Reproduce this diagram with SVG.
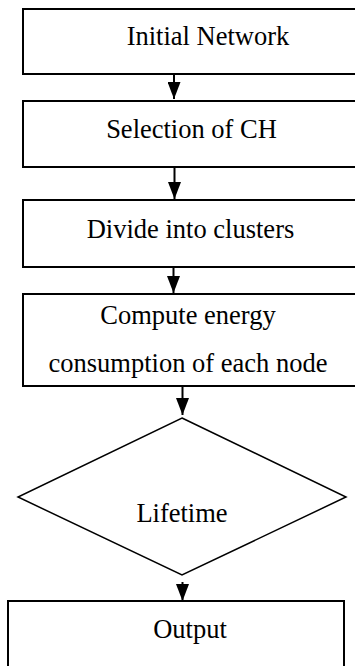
<svg xmlns="http://www.w3.org/2000/svg" width="355" height="666" viewBox="0 0 355 666">
  <style>
    .box { fill: #ffffff; stroke: #000000; stroke-width: 2; }
    .dia { fill: #ffffff; stroke: #000000; stroke-width: 1.5; }
    .lbl { font-family: "Liberation Serif", "Times New Roman", serif; font-size: 26.5px; fill: #000000; text-anchor: middle; }
    .edge { stroke: #000000; stroke-width: 2; fill: none; marker-end: url(#head); }
  </style>
  <defs>
    <!-- solid triangular arrowhead, tip at the end of the line -->
    <marker id="head" markerWidth="17" markerHeight="13" refX="17" refY="6.5" orient="auto" markerUnits="userSpaceOnUse" viewBox="0 0 17 13">
      <path d="M0,0 L17,6.5 L0,13 Z" fill="#000000"/>
    </marker>
  </defs>
  <rect width="355" height="666" fill="#ffffff"/>

  <g id="initial-network">
    <rect class="box" x="23" y="9" width="345" height="65"/>
    <text class="lbl" x="208" y="45">Initial Network</text>
  </g>
  <g id="selection-of-ch">
    <rect class="box" x="23" y="101" width="345" height="66"/>
    <text class="lbl" x="191.5" y="138">Selection of CH</text>
  </g>
  <g id="divide-into-clusters">
    <rect class="box" x="23" y="200" width="345" height="67"/>
    <text class="lbl" x="190.5" y="238">Divide into clusters</text>
  </g>
  <g id="compute-energy">
    <rect class="box" x="23" y="294" width="345" height="92"/>
    <text class="lbl" x="188" y="324">Compute energy</text>
    <text class="lbl" x="188" y="372">consumption of each node</text>
  </g>
  <g id="lifetime">
    <polygon class="dia" points="182,418 346,497 182,575 18,497"/>
    <text class="lbl" x="182" y="522">Lifetime</text>
  </g>
  <g id="output">
    <rect class="box" x="8" y="601" width="336" height="80"/>
    <text class="lbl" x="190" y="638">Output</text>
  </g>

  <g id="connectors">
    <line class="edge" x1="174" y1="74" x2="174" y2="99"/>
    <line class="edge" x1="174.5" y1="167" x2="174.5" y2="199"/>
    <line class="edge" x1="173.5" y1="267" x2="173.5" y2="293"/>
    <line class="edge" x1="182.5" y1="386" x2="182.5" y2="415"/>
    <line class="edge" x1="182.5" y1="582" x2="182.5" y2="601"/>
  </g>
</svg>
